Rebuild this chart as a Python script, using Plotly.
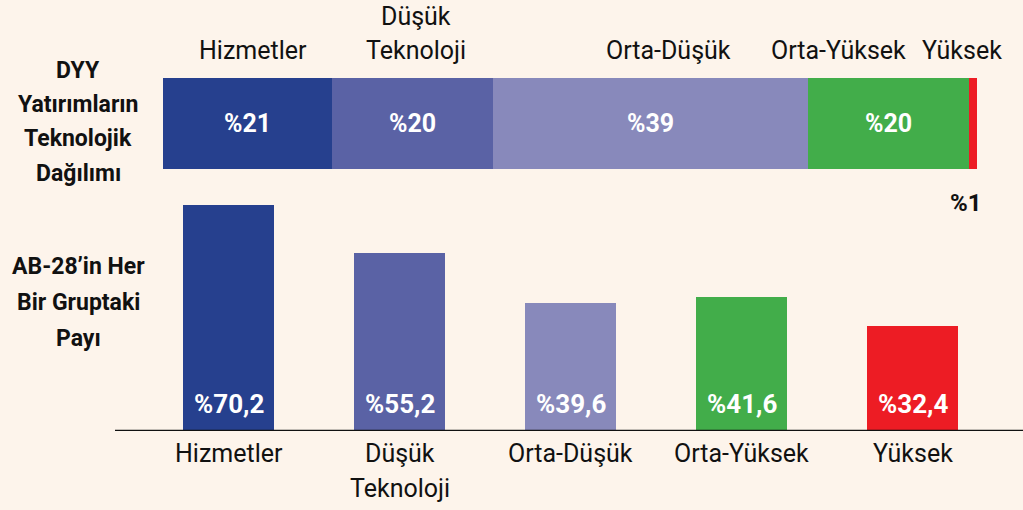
import plotly.graph_objects as go

# ---- data ----
categories = ["Hizmetler", "Düşük Teknoloji", "Orta-Düşük", "Orta-Yüksek", "Yüksek"]
cat_lines = [["Hizmetler"], ["Düşük", "Teknoloji"], ["Orta-Düşük"], ["Orta-Yüksek"], ["Yüksek"]]
dist_share = [21, 20, 39, 20, 1]          # DYY yatırımların teknolojik dağılımı (%)
eu_share = [70.2, 55.2, 39.6, 41.6, 32.4]  # AB-28'in her bir gruptaki payı (%)
dist_labels = ["%21", "%20", "%39", "%20", ""]
eu_labels = ["%70,2", "%55,2", "%39,6", "%41,6", "%32,4"]
colors = ["#26408e", "#5a62a5", "#8889bb", "#42ad4a", "#ed1c24"]

W, H = 1023, 510
BG = "#fdf4eb"
FONT = "Roboto"

fig = go.Figure()

# top stacked horizontal bar
for i, c in enumerate(categories):
    fig.add_trace(go.Bar(
        x=[dist_share[i]], y=["dyy"], orientation="h",
        marker=dict(color=colors[i], line=dict(width=0)),
        text=[dist_labels[i]], textposition="inside", insidetextanchor="middle",
        insidetextfont=dict(color="white", size=25, family=FONT, weight="bold"),
        xaxis="x2", yaxis="y2", showlegend=False, hoverinfo="skip",
    ))

# bottom vertical bars
xs = list(range(len(categories)))
fig.add_trace(go.Bar(
    x=xs, y=eu_share,
    marker=dict(color=colors, line=dict(width=0)),
    width=0.532,
    xaxis="x", yaxis="y", showlegend=False, hoverinfo="skip",
))

def py(p):
    return 1 - p / H

def px(p):
    return p / W

annotations = []
# value labels at the foot of each bottom bar
for i, t in enumerate(eu_labels):
    annotations.append(dict(text=t, x=xs[i], y=0, xref="x", yref="y",
                            xanchor="center", yanchor="bottom", yshift=10, showarrow=False,
                            font=dict(size=26, color="white", family=FONT, weight="bold")))
# top segment labels (pixel centres)
top_labels = [("Hizmetler", 253, 51), ("Düşük", 416, 16), ("Teknoloji", 416, 51),
              ("Orta-Düşük", 668, 51), ("Orta-Yüksek", 838, 51), ("Yüksek", 962, 51)]
for t, xx, yy in top_labels:
    annotations.append(dict(text=t, x=px(xx), y=py(yy), xref="paper", yref="paper",
                            xanchor="center", yanchor="middle", showarrow=False,
                            font=dict(size=25, color="#111111", family=FONT)))
# %1 label
annotations.append(dict(text="%1", x=px(966), y=py(203), xref="paper", yref="paper",
                        xanchor="center", yanchor="middle", showarrow=False,
                        font=dict(size=24, color="#111111", family=FONT, weight="bold")))
# left titles
left1 = ["DYY", "Yatırımların", "Teknolojik", "Dağılımı"]
for k, t in enumerate(left1):
    annotations.append(dict(text=t, x=px(78), y=py(71 + 34 * k), xref="paper", yref="paper",
                            xanchor="center", yanchor="middle", showarrow=False,
                            font=dict(size=23, color="#111111", family=FONT, weight="bold")))
left2 = ["AB-28’in Her", "Bir Gruptaki", "Payı"]
for k, t in enumerate(left2):
    annotations.append(dict(text=t, x=px(78), y=py(266 + 36 * k), xref="paper", yref="paper",
                            xanchor="center", yanchor="middle", showarrow=False,
                            font=dict(size=23, color="#111111", family=FONT, weight="bold")))
# bottom category labels
for i, lines in enumerate(cat_lines):
    for k, t in enumerate(lines):
        annotations.append(dict(text=t, x=xs[i], y=py(453 + 35 * k), xref="x", yref="paper",
                                xanchor="center", yanchor="middle", showarrow=False,
                                font=dict(size=25, color="#111111", family=FONT)))

fig.update_layout(
    width=W, height=H, margin=dict(l=0, r=0, t=0, b=0),
    paper_bgcolor=BG, plot_bgcolor=BG,
    barmode="stack", bargap=0,
    font=dict(family=FONT),
    annotations=annotations,
    xaxis=dict(domain=[px(115), 1], range=[-0.664, 4.646], showgrid=False, zeroline=False,
               showticklabels=False, ticks="", showline=False),
    yaxis=dict(domain=[py(431), py(190)], range=[0, 74.7], showgrid=False, zeroline=False,
               showticklabels=False, ticks=""),
    xaxis2=dict(domain=[px(163), px(977)], range=[0, sum(dist_share)], showgrid=False,
                zeroline=False, showticklabels=False, ticks="", anchor="y2"),
    yaxis2=dict(domain=[py(169), py(77.5)], range=[-0.5, 0.5], showgrid=False, zeroline=False,
                showticklabels=False, ticks="", anchor="x2"),
    shapes=[dict(type="line", xref="paper", yref="y", x0=px(115), x1=1, y0=0, y1=0,
                 line=dict(color="#111111", width=2.5), layer="above")],
)

fig.write_html("out.html",
               config={"displayModeBar": False},
               post_script="document.body.style.margin='0';document.body.style.padding='0';"
                           "document.body.style.overflow='hidden';"
                           "document.documentElement.style.background='" + BG + "';")
